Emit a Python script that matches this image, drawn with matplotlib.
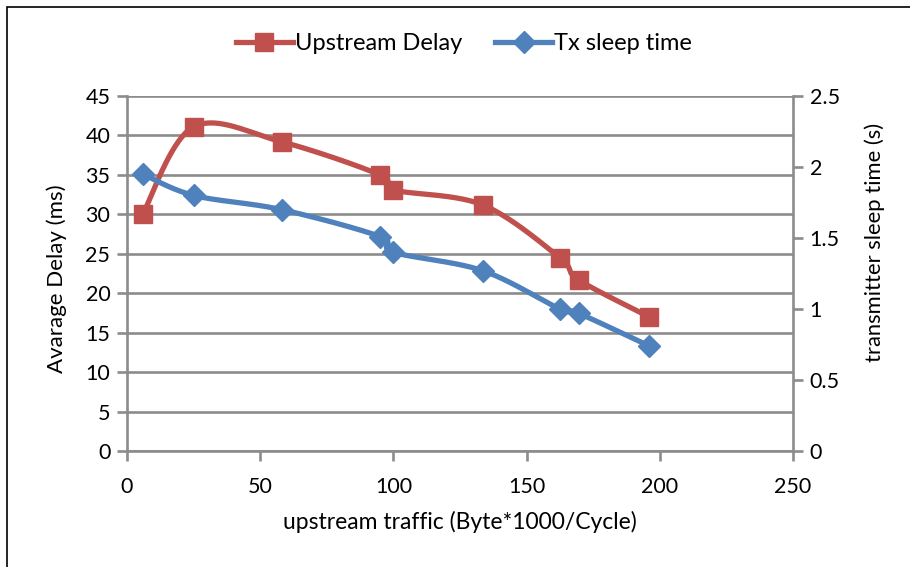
import numpy as np
import matplotlib
matplotlib.use("Agg")
import matplotlib.pyplot as plt
from matplotlib.patches import Rectangle
from matplotlib.lines import Line2D

# Measured series
traffic = [6, 25, 58, 95, 100, 133.5, 162.5, 169.5, 196]
upstream_delay = [30.1, 41.1, 39.2, 35.0, 33.1, 31.2, 24.5, 21.7, 17.0]
tx_sleep = [1.95, 1.80, 1.70, 1.51, 1.40, 1.27, 1.00, 0.97, 0.74]

x_ticks = [0, 50, 100, 150, 200, 250]
left_ticks = [0, 5, 10, 15, 20, 25, 30, 35, 40, 45]
right_ticks = [0, 0.5, 1, 1.5, 2, 2.5]
right_tick_labels = ["0", "0.5", "1", "1.5", "2", "2.5"]

RED = "#C0504D"
BLUE = "#4F81BD"
AXIS_GREY = "#8C8C8C"
FONT = ["Lato", "DejaVu Sans"]


def smooth(xs, ys, n=40):
    """Catmull-Rom style Bezier smoothing through every point."""
    xs = np.asarray(xs, float)
    ys = np.asarray(ys, float)
    P = np.column_stack([xs, ys])
    out = [P[0]]
    m = len(P)
    t = np.linspace(0, 1, n)[1:, None]
    for i in range(m - 1):
        p0 = P[i - 1] if i > 0 else P[i]
        p1 = P[i]
        p2 = P[i + 1]
        p3 = P[i + 2] if i + 2 < m else P[i + 1]
        c1 = p1 + (p2 - p0) / 6.0
        c2 = p2 - (p3 - p1) / 6.0
        seg = ((1 - t) ** 3) * p1 + 3 * ((1 - t) ** 2) * t * c1 \
            + 3 * (1 - t) * t ** 2 * c2 + t ** 3 * p2
        out.extend(seg)
    out = np.array(out)
    return out[:, 0], out[:, 1]


fig = plt.figure(figsize=(9.1, 5.67), dpi=100)
fig.patch.set_facecolor("white")

# chart-area border
fig.add_artist(Rectangle((7 / 910, -0.2), 2.0, 1.2 - 7 / 567,
                         transform=fig.transFigure, fill=False,
                         edgecolor="black", linewidth=1.2))

ax = fig.add_axes([127 / 910, 1 - 451 / 567, (793 - 127) / 910, (451 - 96) / 567])
ax2 = ax.twinx()

ax.set_xlim(0, 250)
ax.set_ylim(0, 45)
ax2.set_ylim(0, 2.5)

ax.set_yticks(left_ticks)
ax.set_xticks(x_ticks)
ax2.set_yticks(right_ticks)
ax2.set_yticklabels(right_tick_labels)

ax.grid(axis="y", color=AXIS_GREY, linewidth=1.9)
ax.set_axisbelow(True)

for a in (ax, ax2):
    a.spines["top"].set_visible(False)
    for side in ("left", "right", "bottom"):
        a.spines[side].set_color(AXIS_GREY)
        a.spines[side].set_linewidth(1.9)
    a.tick_params(colors="black", length=7, width=1.9, color=AXIS_GREY,
                  labelsize=15.5, pad=5)

ax.spines["right"].set_visible(False)
ax2.spines["left"].set_visible(False)
ax2.spines["bottom"].set_visible(False)
ax.tick_params(axis="x", pad=12)

for lbl in ax.get_xticklabels() + ax.get_yticklabels() + ax2.get_yticklabels():
    lbl.set_family(FONT)

# Upstream delay on the left axis
sx, sy = smooth(traffic, upstream_delay)
ax.plot(sx, sy, color=RED, linewidth=3.8, solid_capstyle="round", zorder=3)
ax.plot(traffic, upstream_delay, linestyle="none", marker="s",
        markersize=13, color=RED, zorder=4)

# Transmitter sleep time on the right axis
bx, by = smooth(traffic, tx_sleep)
ax2.plot(bx, by, color=BLUE, linewidth=3.8, solid_capstyle="round", zorder=3)
ax2.plot(traffic, tx_sleep, linestyle="none", marker="D",
         markersize=11.5, color=BLUE, zorder=4)

ax.set_xlabel("upstream traffic (Byte*1000/Cycle)", family=FONT,
              fontsize=16.5, labelpad=10)
fig.text(57 / 910, 1 - 279 / 567, "Avarage Delay (ms)", rotation=90,
         ha="center", va="center", family=FONT, fontsize=16)
fig.text(875 / 910, 1 - 242 / 567, "transmitter sleep time (s)", rotation=90,
         ha="center", va="center", family=FONT, fontsize=15.8)

handles = [
    Line2D([], [], color=RED, linewidth=3.8, marker="s", markersize=13),
    Line2D([], [], color=BLUE, linewidth=3.8, marker="D", markersize=11.5),
]
fig.legend(handles, ["Upstream Delay", "Tx sleep time"],
           loc="center", bbox_to_anchor=(464 / 910, 1 - 44 / 567),
           ncol=2, frameon=False, handlelength=2.4, handletextpad=0.1,
           columnspacing=1.4, prop={"family": FONT, "size": 17})

fig.savefig("out.png", dpi=100, facecolor="white")
